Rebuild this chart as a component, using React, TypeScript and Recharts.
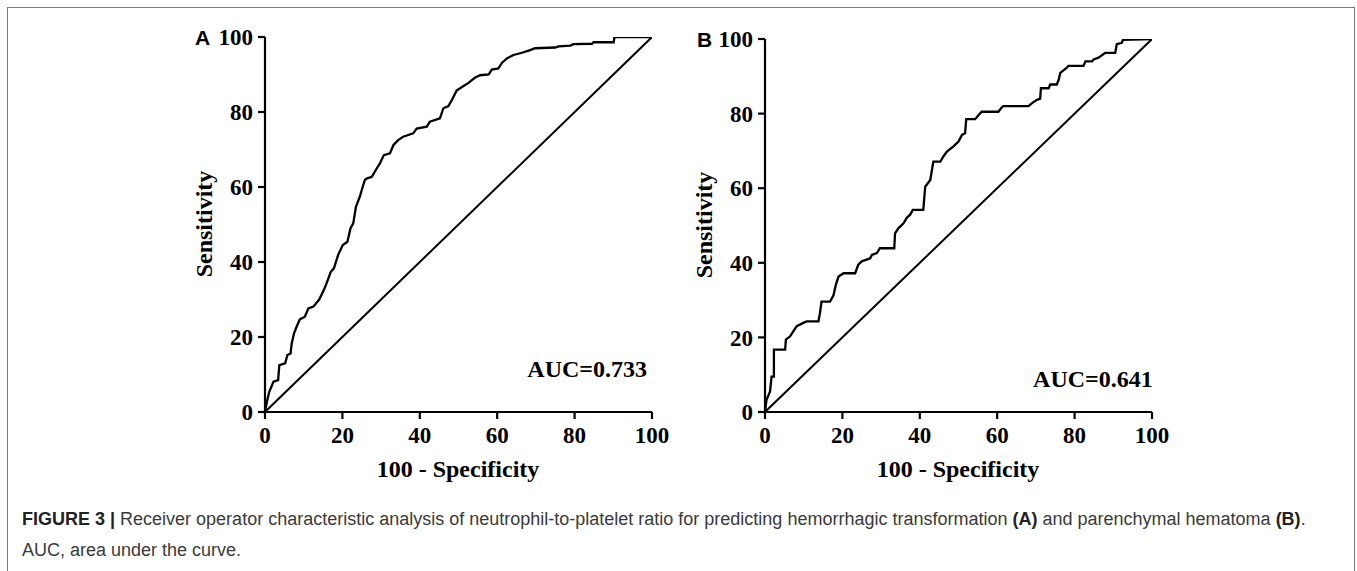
import React from 'react';
import { LineChart, Line, XAxis, YAxis, ReferenceDot } from 'recharts';

// ---------- data ----------
const xTicks = [0, 20, 40, 60, 80, 100];
const yTicks = [0, 20, 40, 60, 80, 100];

const diagonalX = [0, 100];
const diagonalY = [0, 100];

// Panel A: hemorrhagic transformation (100 - specificity, sensitivity)
const rocA_fpr = [0, 0.6, 1.1, 2.2, 3.4, 3.7, 5.2, 5.8, 6.6, 6.9, 7.5, 8.2, 9.0, 10.3, 11.2, 12.5, 14.0, 15.2, 15.9, 17.0, 17.8, 18.9, 20.1, 21.3, 22.1, 22.8, 23.5, 24.5, 25.0, 25.8, 26.4, 27.6, 28.9, 29.7, 30.7, 32.3, 33.2, 34.4, 35.7, 38.3, 39.2, 41.8, 42.6, 45.2, 46.1, 47.4, 48.5, 49.5, 50.8, 52.5, 54.3, 55.6, 57.8, 58.6, 60.3, 61.2, 62.5, 64.2, 66.4, 68.5, 69.8, 75.0, 75.9, 78.9, 79.7, 84.5, 84.9, 90.1, 90.3, 100];
const rocA_tpr = [0, 3.2, 5.4, 8.1, 8.5, 12.5, 13.0, 15.2, 15.6, 18.3, 21.0, 22.8, 24.7, 25.4, 27.6, 28.1, 30.0, 32.5, 34.3, 37.4, 38.3, 41.9, 44.5, 45.4, 49.0, 50.3, 54.7, 57.4, 59.2, 61.9, 62.3, 62.7, 65.0, 66.3, 68.5, 69.0, 71.2, 72.5, 73.4, 74.3, 75.6, 76.1, 77.4, 78.3, 81.0, 81.6, 83.6, 85.7, 86.6, 87.7, 89.2, 89.8, 90.0, 91.3, 91.6, 93.1, 94.3, 95.2, 95.8, 96.5, 97.0, 97.2, 97.5, 97.7, 98.1, 98.2, 98.6, 98.6, 100, 100];

// Panel B: parenchymal hematoma
const rocB_fpr = [0, 0.4, 1.3, 1.7, 2.3, 2.3, 5.2, 5.4, 6.5, 7.3, 8.2, 9.9, 10.8, 13.8, 14.2, 14.6, 16.8, 17.7, 18.3, 19.0, 20.3, 23.3, 24.1, 25.0, 27.2, 27.6, 28.9, 29.7, 33.4, 33.6, 34.5, 35.8, 36.6, 37.5, 38.2, 40.9, 41.4, 42.7, 43.5, 45.3, 46.1, 47.0, 48.7, 50.0, 50.9, 51.7, 52.0, 54.3, 55.2, 56.0, 60.3, 61.2, 61.6, 68.1, 69.0, 70.3, 71.1, 71.3, 73.3, 73.7, 75.4, 75.9, 76.3, 78.0, 78.4, 82.3, 82.8, 84.5, 84.9, 86.2, 87.9, 90.5, 90.9, 92.2, 92.5, 100];
const rocB_tpr = [0, 3.3, 5.5, 9.5, 9.5, 16.7, 16.7, 19.4, 20.3, 21.6, 23.0, 23.9, 24.3, 24.3, 26.5, 29.6, 29.6, 31.3, 34.1, 36.3, 37.2, 37.2, 39.5, 40.4, 41.2, 42.1, 42.6, 43.9, 43.9, 47.9, 49.3, 50.6, 52.0, 52.9, 54.2, 54.2, 60.4, 62.2, 67.1, 67.1, 68.5, 69.8, 71.2, 72.5, 74.3, 74.7, 78.5, 78.5, 79.6, 80.5, 80.5, 81.7, 82.0, 82.0, 82.8, 83.7, 84.0, 86.8, 86.8, 87.8, 87.8, 89.1, 90.9, 92.3, 92.8, 92.8, 94.0, 94.0, 94.5, 95.0, 96.3, 96.3, 98.6, 99.0, 99.8, 100];

const aucLabelA = 'AUC=0.733';
const aucLabelB = 'AUC=0.641';
const xTitle = '100 - Specificity';
const yTitle = 'Sensitivity';

// ---------- helpers ----------
const toPoints = (xs: number[], ys: number[]) => xs.map((x, i) => ({ x, y: ys[i] }));
const SERIF = '"Liberation Serif", "Times New Roman", serif';
const SANS = '"Liberation Sans", Arial, Helvetica, sans-serif';

const tickStyle = { fill: '#000', fontFamily: SERIF, fontWeight: 700, fontSize: 23 };

type PanelProps = {
  left: number;
  top: number;
  fpr: number[];
  tpr: number[];
  auc: string;
  aucX: number;
  aucY: number;
};

function RocPanel({ left, top, fpr, tpr, auc, aucX, aucY }: PanelProps) {
  const curve = toPoints(fpr, tpr);
  const diag = toPoints(diagonalX, diagonalY);
  return (
    <div style={{ position: 'absolute', left: 0, top: 0 }}>
      <LineChart
        width={700}
        height={500}
        margin={{ top, right: 48, bottom: 28, left: 205 }}
        style={{ position: 'absolute', left, top: 0 }}
      >
        <XAxis
          type="number"
          dataKey="x"
          domain={[0, 100]}
          ticks={xTicks}
          interval={0}
          height={60}
          axisLine={{ stroke: '#000', strokeWidth: 2.2 }}
          tickLine={{ stroke: '#000', strokeWidth: 2.2 }}
          tickSize={7}
          tickMargin={8}
          tick={tickStyle}
          allowDataOverflow
        />
        <YAxis
          type="number"
          dataKey="y"
          domain={[0, 100]}
          ticks={yTicks}
          interval={0}
          width={60}
          axisLine={{ stroke: '#000', strokeWidth: 2.2 }}
          tickLine={{ stroke: '#000', strokeWidth: 2.2 }}
          tickSize={7}
          tickMargin={5}
          tick={tickStyle}
          allowDataOverflow
        />
        <Line
          data={diag}
          dataKey="y"
          type="linear"
          stroke="#000"
          strokeWidth={2}
          dot={false}
          activeDot={false}
          isAnimationActive={false}
        />
        <Line
          data={curve}
          dataKey="y"
          type="linear"
          stroke="#000"
          strokeWidth={2.3}
          strokeLinejoin="miter"
          dot={false}
          activeDot={false}
          isAnimationActive={false}
        />
        <ReferenceDot
          x={aucX}
          y={aucY}
          r={0}
          ifOverflow="visible"
          shape={(p: any) => (
            <text
              x={p.cx}
              y={p.cy}
              textAnchor="end"
              fontFamily={SERIF}
              fontWeight={700}
              fontSize={24}
              fill="#000"
            >
              {auc}
            </text>
          )}
        />
      </LineChart>
    </div>
  );
}

export default function App() {
  return (
    <div style={{ position: 'absolute', left: 0, top: 0, width: 1357, height: 571, overflow: 'hidden', background: '#fff' }}>
      <style>{`html,body{overflow:hidden;margin:8px;}`}</style>
      <div
        style={{
          position: 'absolute',
          left: 7,
          top: 7,
          width: 1348,
          height: 600,
          border: '1px solid #7a7a7a',
          boxSizing: 'border-box',
        }}
      />
      <RocPanel left={0} top={37} fpr={rocA_fpr} tpr={rocA_tpr} auc={aucLabelA} aucX={98.7} aucY={9.3} />
      <RocPanel left={500} top={39} fpr={rocB_fpr} tpr={rocB_tpr} auc={aucLabelB} aucX={100.2} aucY={6.7} />
      <svg width={1357} height={571} style={{ position: 'absolute', left: 0, top: 0, pointerEvents: 'none' }}>
        <text x={195} y={45} fontFamily={SANS} fontWeight={700} fontSize={21} fill="#000">A</text>
        <text x={697} y={47} fontFamily={SANS} fontWeight={700} fontSize={21} fill="#000">B</text>
        <text
          x={204}
          y={224}
          transform="rotate(-90 204 224)"
          textAnchor="middle"
          dominantBaseline="central"
          fontFamily={SERIF}
          fontWeight={700}
          fontSize={24}
          fill="#000"
        >
          {yTitle}
        </text>
        <text
          x={704}
          y={225}
          transform="rotate(-90 704 225)"
          textAnchor="middle"
          dominantBaseline="central"
          fontFamily={SERIF}
          fontWeight={700}
          fontSize={24}
          fill="#000"
        >
          {yTitle}
        </text>
        <text x={458} y={477} textAnchor="middle" fontFamily={SERIF} fontWeight={700} fontSize={24} fill="#000">{xTitle}</text>
        <text x={958} y={477} textAnchor="middle" fontFamily={SERIF} fontWeight={700} fontSize={24} fill="#000">{xTitle}</text>
      </svg>
      <div
        style={{
          position: 'absolute',
          left: 22,
          top: 504,
          fontFamily: SANS,
          fontSize: 18,
          lineHeight: '31px',
          color: '#3a3a3a',
          whiteSpace: 'nowrap',
        }}
      >
        <span style={{ fontWeight: 700, color: '#222' }}>FIGURE 3 |</span> Receiver operator characteristic analysis of neutrophil-to-platelet ratio for predicting hemorrhagic transformation <b style={{ color: '#222' }}>(A)</b> and parenchymal hematoma <b style={{ color: '#222' }}>(B)</b>.
        <br />
        AUC, area under the curve.
      </div>
    </div>
  );
}
